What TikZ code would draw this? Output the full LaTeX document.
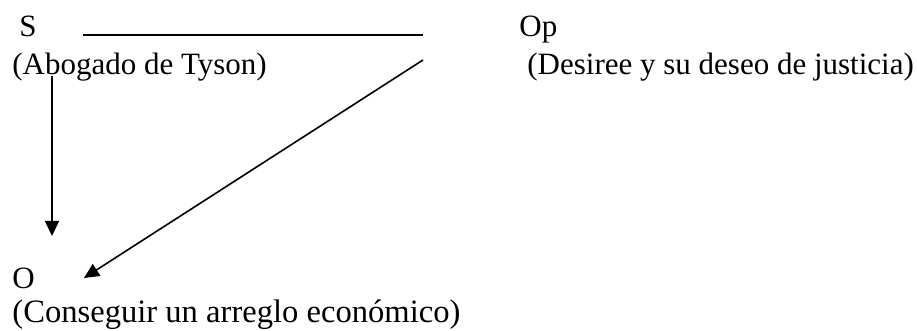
\documentclass[tikz,border=0pt]{standalone}
\usepackage{fontspec}
\setmainfont{Liberation Serif}
\usepackage{tikz}
\usetikzlibrary{arrows.meta}

\begin{document}
\begin{tikzpicture}[x=0.5pt,y=-0.5pt,font=\fontsize{15.5pt}{18pt}\selectfont,
  lbl/.style={anchor=base west,inner sep=0pt},
  conn/.style={line width=0.8pt},
  tip/.style={-{Triangle[length=7.5pt,width=7pt]}}]
\useasboundingbox (0,0) rectangle (917,331);
\node[lbl] (S) at (19,37) {S};
\node[lbl] (Op) at (519,37) {Op};
\node[lbl] (abog) at (12,75) {(Abogado de Tyson)};
\node[lbl] (des) at (527,75) {(Desiree y su deseo de justicia)};
\node[lbl] (O) at (12,289) {O};
\node[lbl,font=\fontsize{16.3pt}{19pt}\selectfont] (cons) at (12,323) {(Conseguir un arreglo económico)};
\coordinate (h1) at (83,35);
\coordinate (h2) at (423,35);
\coordinate (v1) at (52,76);
\coordinate (v2) at (52,236);
\coordinate (d1) at (423,60);
\coordinate (d2) at (84,278);
\draw[conn] (h1) to (h2);
\draw[conn,tip] (v1) to (v2);
\draw[conn,tip] (d1) to (d2);
\end{tikzpicture}
\end{document}
